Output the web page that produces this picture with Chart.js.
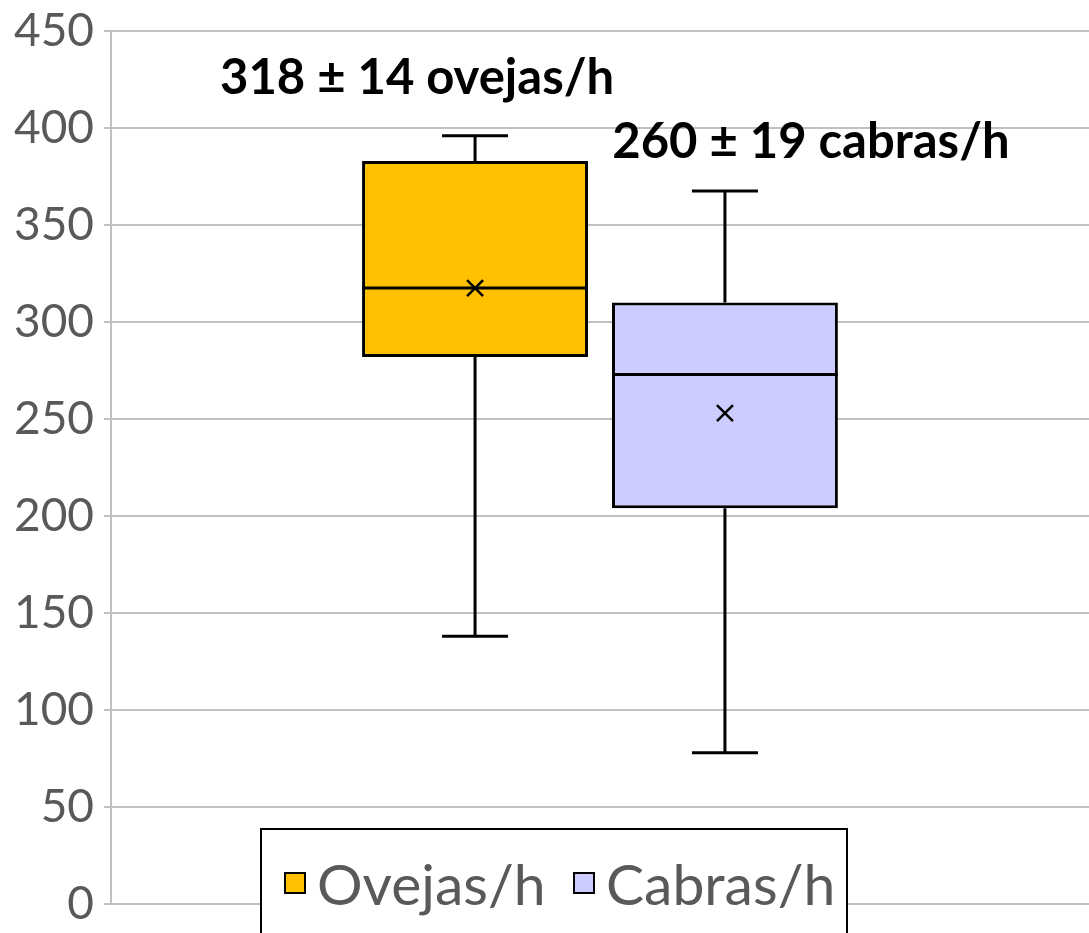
<!DOCTYPE html>
<html>
<head>
<meta charset="utf-8">
<script src="https://cdn.jsdelivr.net/npm/chart.js@4"></script>
<style>
    html, body { margin: 0; padding: 0; background: #fff; }
    #wrap { width: 1089px; height: 933px; }
</style>
</head>
<body>
<div id="wrap"><canvas id="boxChart"></canvas></div>
<script>
// Box plot data
const seriesNames = ['Ovejas/h', 'Cabras/h'];
const seriesColors = ['#FFC000', '#CCCCFF'];
const whiskerMin = [138, 78];
const quartile1 = [282, 204];
const medians = [317.5, 273];
const quartile3 = [383, 310];
const whiskerMax = [396, 367.5];
const means = [317.5, 253];
const annotations = ['318 ± 14 ovejas/h', '260 ± 19 cabras/h'];
const yTicks = [0, 50, 100, 150, 200, 250, 300, 350, 400, 450];

const FONT = 'Lato, "Open Sans", sans-serif';

// whiskers, median line and mean marker on top of the floating bars
const boxExtras = {
    id: 'boxExtras',
    afterDatasetsDraw(chart) {
        const ctx = chart.ctx;
        const y = chart.scales.y;
        ctx.save();
        ctx.strokeStyle = '#000';
        ctx.lineWidth = 3;
        chart.data.datasets.forEach((ds, i) => {
            const bar = chart.getDatasetMeta(i).data[0];
            const cx = bar.x;
            const half = bar.width / 2;
            const cap = 33;
            ctx.beginPath();
            // upper whisker
            ctx.moveTo(cx, y.getPixelForValue(quartile3[i]));
            ctx.lineTo(cx, y.getPixelForValue(whiskerMax[i]));
            ctx.moveTo(cx - cap, y.getPixelForValue(whiskerMax[i]));
            ctx.lineTo(cx + cap, y.getPixelForValue(whiskerMax[i]));
            // lower whisker
            ctx.moveTo(cx, y.getPixelForValue(quartile1[i]));
            ctx.lineTo(cx, y.getPixelForValue(whiskerMin[i]));
            ctx.moveTo(cx - cap, y.getPixelForValue(whiskerMin[i]));
            ctx.lineTo(cx + cap, y.getPixelForValue(whiskerMin[i]));
            // median
            ctx.moveTo(cx - half, y.getPixelForValue(medians[i]));
            ctx.lineTo(cx + half, y.getPixelForValue(medians[i]));
            ctx.stroke();
            // mean as x
            const my = y.getPixelForValue(means[i]);
            const s = 8;
            ctx.lineWidth = 2.5;
            ctx.beginPath();
            ctx.moveTo(cx - s, my - s);
            ctx.lineTo(cx + s, my + s);
            ctx.moveTo(cx + s, my - s);
            ctx.lineTo(cx - s, my + s);
            ctx.stroke();
            ctx.lineWidth = 3;
        });
        ctx.restore();
    },
    afterDraw(chart) {
        const ctx = chart.ctx;
        const area = chart.chartArea;
        ctx.save();
        // bold labels above the boxes
        ctx.fillStyle = '#000';
        ctx.font = 'bold 49px ' + FONT;
        ctx.textAlign = 'center';
        ctx.textBaseline = 'middle';
        const bar0 = chart.getDatasetMeta(0).data[0];
        const bar1 = chart.getDatasetMeta(1).data[0];
        ctx.fillText(annotations[0], bar0.x - 58, area.top + 47);
        ctx.fillText(annotations[1], bar1.x + 86, area.top + 111);

        // legend box overlapping the plot bottom
        const lx = 261, ly = 829, lw = 586, lh = 120;
        ctx.fillStyle = '#fff';
        ctx.fillRect(lx, ly, lw, lh);
        ctx.strokeStyle = '#000';
        ctx.lineWidth = 2;
        ctx.strokeRect(lx, ly, lw, lh);
        ctx.font = '57px ' + FONT;
        ctx.textAlign = 'left';
        ctx.textBaseline = 'alphabetic';
        const starts = [285, 574];
        seriesNames.forEach((name, i) => {
            const sx = starts[i];
            ctx.fillStyle = seriesColors[i];
            ctx.fillRect(sx, 873, 20, 20);
            ctx.strokeRect(sx, 873, 20, 20);
            ctx.fillStyle = '#595959';
            ctx.fillText(name, sx + 32, 905);
        });
        ctx.restore();
    }
};

new Chart(document.getElementById('boxChart'), {
    type: 'bar',
    data: {
        labels: [''],
        datasets: seriesNames.map((name, i) => ({
            label: name,
            data: [[quartile1[i], quartile3[i]]],
            backgroundColor: seriesColors[i],
            borderColor: '#000',
            borderWidth: 3,
            borderSkipped: false
        }))
    },
    options: {
        responsive: true,
        maintainAspectRatio: false,
        animation: false,
        categoryPercentage: 0.511,
        barPercentage: 0.904,
        layout: { padding: { top: 31, right: 0, bottom: 29, left: 0 } },
        plugins: {
            legend: { display: false },
            tooltip: { enabled: false }
        },
        scales: {
            x: { display: false },
            y: {
                min: 0,
                max: 450,
                afterBuildTicks: (s) => { s.ticks = yTicks.map(v => ({ value: v })); },
                afterFit: (s) => {
                    s.width = 111;
                    s.paddingTop = 0;
                    s.paddingBottom = 0;
                },
                border: { color: '#bfbfbf', width: 2 },
                grid: { color: '#c0c0c0', lineWidth: 2, tickLength: 7 },
                ticks: {
                    color: '#595959',
                    padding: 10,
                    font: { family: FONT, size: 46 }
                }
            }
        }
    },
    plugins: [boxExtras]
});
</script>
</body>
</html>
